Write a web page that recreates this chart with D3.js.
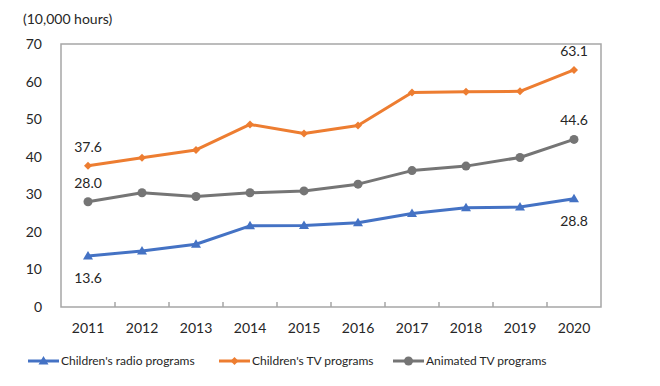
<!DOCTYPE html>
<html>
<head>
<meta charset="utf-8">
<script src="https://cdn.jsdelivr.net/npm/d3@7"></script>
<style>
  body { margin: 0; background: #fff; }
  text { font-family: Lato, "Open Sans", sans-serif; fill: #262626; }
</style>
</head>
<body>
<div id="chart"></div>
<script>
var years = ["2011", "2012", "2013", "2014", "2015", "2016", "2017", "2018", "2019", "2020"];
var radioValues = [13.6, 14.9, 16.7, 21.6, 21.7, 22.4, 24.9, 26.4, 26.6, 28.8];
var tvValues = [37.6, 39.7, 41.8, 48.6, 46.2, 48.3, 57.1, 57.3, 57.4, 63.1];
var animeValues = [28.0, 30.4, 29.4, 30.4, 30.9, 32.7, 36.3, 37.5, 39.8, 44.6];
var yTicks = [0, 10, 20, 30, 40, 50, 60, 70];
var seriesNames = ["Children's radio programs", "Children's TV programs", "Animated TV programs"];

function drawChart() {
    var width = 660, height = 386;
    var left = 61, right = 601, top = 44, bottom = 307;

    var svg = d3.select("#chart").append("svg")
        .attr("width", width)
        .attr("height", height);

    var x = d3.scaleBand().domain(years).range([left, right]);
    var y = d3.scaleLinear().domain([0, 70]).range([bottom, top]);

    var series = [
        { name: seriesNames[0], values: radioValues, color: "#4472c4", marker: "triangle" },
        { name: seriesNames[1], values: tvValues, color: "#ed7d31", marker: "diamond" },
        { name: seriesNames[2], values: animeValues, color: "#757575", marker: "circle" }
    ];

    // plot frame
    svg.append("rect")
        .attr("x", left)
        .attr("y", top)
        .attr("width", right - left)
        .attr("height", bottom - top)
        .attr("fill", "none")
        .attr("stroke", "#a6a6a6")
        .attr("stroke-width", 1.5);

    // bottom axis with inside ticks at band edges
    var xAxis = svg.append("g")
        .attr("transform", "translate(0," + bottom + ")")
        .call(d3.axisBottom(x).tickSize(0).tickPadding(16));
    xAxis.select(".domain").remove();
    xAxis.selectAll("text").style("font-size", "14px").attr("font-family", null);

    svg.selectAll(".xtick")
        .data(years.slice(1))
        .enter()
        .append("line")
        .attr("x1", function (d) { return x(d); })
        .attr("x2", function (d) { return x(d); })
        .attr("y1", bottom)
        .attr("y2", bottom - 5)
        .attr("stroke", "#a6a6a6")
        .attr("stroke-width", 1.5);

    var yAxis = svg.append("g")
        .attr("transform", "translate(" + left + ",0)")
        .call(d3.axisLeft(y).tickValues(yTicks).tickSize(0).tickPadding(19));
    yAxis.select(".domain").remove();
    yAxis.selectAll("text").style("font-size", "14px").attr("font-family", null);

    svg.append("text")
        .attr("x", 23)
        .attr("y", 24)
        .style("font-size", "14px")
        .text("(10,000 hours)");

    var line = d3.line()
        .x(function (d, i) { return x(years[i]) + x.bandwidth() / 2; })
        .y(function (d) { return y(d); });

    function drawMarker(g, type, color) {
        if (type === "triangle") {
            g.append("path").attr("d", "M0,-5L5,3.5L-5,3.5Z").attr("fill", color);
        } else if (type === "diamond") {
            g.append("path").attr("d", "M0,-4L4,0L0,4L-4,0Z").attr("fill", color);
        } else {
            g.append("circle").attr("r", 4.5).attr("fill", color);
        }
    }

    series.forEach(function (s) {
        svg.append("path")
            .datum(s.values)
            .attr("fill", "none")
            .attr("stroke", s.color)
            .attr("stroke-width", 3)
            .attr("stroke-linejoin", "round")
            .attr("d", line);

        svg.selectAll(null)
            .data(s.values)
            .enter()
            .append("g")
            .attr("transform", function (d, i) {
                return "translate(" + (x(years[i]) + x.bandwidth() / 2) + "," + y(d) + ")";
            })
            .each(function () { drawMarker(d3.select(this), s.marker, s.color); });
    });

    // data labels on first and last points
    var labels = [
        { s: 0, i: 0, dy: 27 }, { s: 0, i: 9, dy: 27 },
        { s: 1, i: 0, dy: -14 }, { s: 1, i: 9, dy: -14 },
        { s: 2, i: 0, dy: -14 }, { s: 2, i: 9, dy: -14 }
    ];
    svg.selectAll(".dlabel")
        .data(labels)
        .enter()
        .append("text")
        .attr("text-anchor", "middle")
        .attr("x", function (d) { return x(years[d.i]) + x.bandwidth() / 2; })
        .attr("y", function (d) { return y(series[d.s].values[d.i]) + d.dy; })
        .style("font-size", "14px")
        .text(function (d) { return series[d.s].values[d.i].toFixed(1); });

    // legend
    var legendX = [28, 219, 393];
    var legend = svg.selectAll(".legend")
        .data(series)
        .enter()
        .append("g")
        .attr("transform", function (d, i) { return "translate(" + legendX[i] + ",361)"; });
    legend.append("line")
        .attr("x1", 0).attr("x2", 31)
        .attr("stroke", function (d) { return d.color; })
        .attr("stroke-width", 3);
    legend.each(function (d) {
        var m = d3.select(this).append("g").attr("transform", "translate(15.5,0)");
        drawMarker(m, d.marker, d.color);
    });
    legend.append("text")
        .attr("x", 33)
        .attr("dy", "0.35em")
        .style("font-size", "12px")
        .text(function (d) { return d.name; });
}

window.addEventListener('load', function () {
    drawChart();
});
</script>
</body>
</html>
